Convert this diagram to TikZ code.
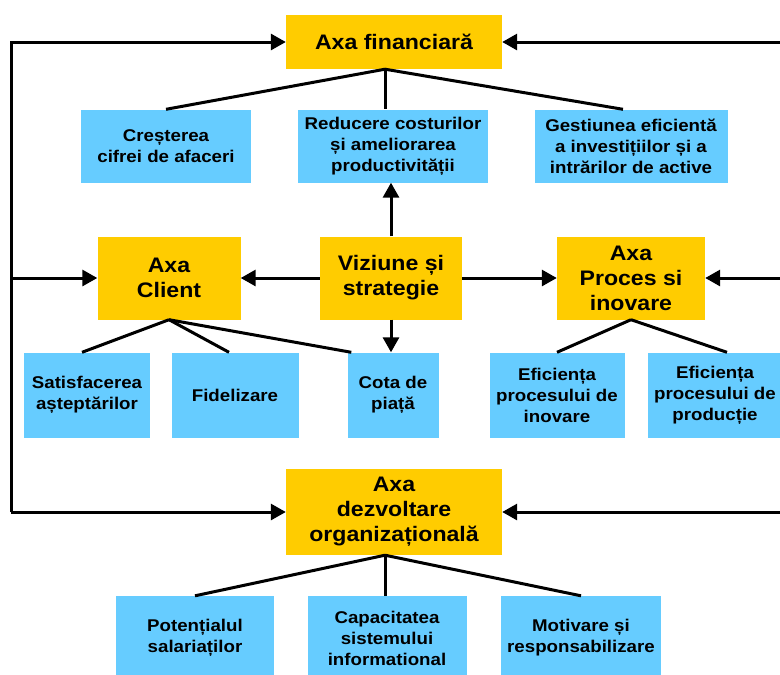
\documentclass[tikz,border=0pt]{standalone}
\usepackage{fontspec}
\setmainfont{Liberation Sans}[FakeStretch=1.1]
\usetikzlibrary{arrows.meta}
\definecolor{axagold}{HTML}{FFCC00}
\definecolor{skyblue}{HTML}{66CCFF}
\tikzset{
  axabox/.style   = {fill=axagold, align=center, inner sep=0pt,
                     font=\bfseries\fontsize{21}{25}\selectfont},
  goalbox/.style  = {fill=skyblue, align=center, inner sep=0pt,
                     font=\bfseries\fontsize{17}{21}\selectfont},
  flowarr/.style  = {-{Triangle[length=15pt,width=16pt]}, line width=3pt},
  linkline/.style = {line width=3pt}
}

\begin{document}
\begin{tikzpicture}[x=1pt,y=-1pt]
  \useasboundingbox (0,0) rectangle (780,675);
  % axele
  \node[axabox, minimum width=216pt, minimum height=54pt] (fin)    at (394,42)  {Axa financiară};
  \node[axabox, minimum width=143pt, minimum height=83pt] (client) at (169,278) {Axa\\Client};
  \node[axabox, minimum width=142pt, minimum height=83pt] (viz)    at (391,278) {Viziune și\\strategie};
  \node[axabox, minimum width=148pt, minimum height=83pt] (proc)   at (631,278) {Axa\\Proces si\\inovare};
  \node[axabox, minimum width=216pt, minimum height=86pt] (dezv)   at (394,512) {Axa\\dezvoltare\\organizațională};
  % obiective
  \node[goalbox, minimum width=170pt, minimum height=73pt] (cres)   at (166,146) {Creșterea\\cifrei de afaceri};
  \node[goalbox, minimum width=190pt, minimum height=73pt] (red)    at (393,146) {Reducere costurilor\\și ameliorarea\\productivității};
  \node[goalbox, minimum width=193pt, minimum height=73pt] (gest)   at (631,146) {Gestiunea eficientă\\a investițiilor și a\\intrărilor de active};
  \node[goalbox, minimum width=126pt, minimum height=85pt] (satis)  at (87,395)  {Satisfacerea\\așteptărilor};
  \node[goalbox, minimum width=127pt, minimum height=85pt] (fid)    at (235,395) {Fidelizare};
  \node[goalbox, minimum width=91pt,  minimum height=85pt] (cota)   at (393,395) {Cota de\\piață};
  \node[goalbox, minimum width=135pt, minimum height=85pt] (efin)   at (557,395) {Eficiența\\procesului de\\inovare};
  \node[goalbox, minimum width=134pt, minimum height=85pt] (efprod) at (715,395) {Eficiența\\procesului de\\producție};
  \node[goalbox, minimum width=158pt, minimum height=84pt] (pot)    at (195,638) {Potențialul\\salariaților};
  \node[goalbox, minimum width=159pt, minimum height=84pt] (cap)    at (387,638) {Capacitatea\\sistemului\\informational};
  \node[goalbox, minimum width=160pt, minimum height=84pt] (mot)    at (581,638) {Motivare și\\responsabilizare};
  % capete libere
  \coordinate (lc) at (11,512);
  \coordinate (rf) at (780,42);
  \coordinate (rp) at (780,278);
  \coordinate (rd) at (780,512);
  \coordinate (finS)  at ([xshift=-9pt]fin.south);
  \coordinate (dezvS) at ([xshift=-9pt]dezv.south);
  % sageti
  \draw[flowarr] (lc) |- (fin.west);
  \draw[flowarr] (lc |- client.west) -- (client.west);
  \draw[flowarr] (lc) -- (dezv.west);
  \draw[flowarr] (rf) -- (fin.east);
  \draw[flowarr] (rp) -- (proc.east);
  \draw[flowarr] (rd) -- (dezv.east);
  \draw[flowarr] (viz.west) -- (client.east);
  \draw[flowarr] (viz.east) -- (proc.west);
  \draw[flowarr] (viz.north) -- (red.south -| viz.north);
  \draw[flowarr] (viz.south) -- (cota.north -| viz.south);
  % legaturi
  \draw[linkline] (finS) -- (cres.north);
  \draw[linkline] (finS) -- (finS |- red.north);
  \draw[linkline] (finS) -- ([xshift=-8pt]gest.north);
  \draw[linkline] (client.south) -- ([xshift=-5pt]satis.north);
  \draw[linkline] (client.south) -- ([xshift=-6pt]fid.north);
  \draw[linkline] (client.south) -- ([xshift=4pt]cota.north west);
  \draw[linkline] (proc.south) -- (efin.north);
  \draw[linkline] (proc.south) -- ([xshift=12pt]efprod.north);
  \draw[linkline] (dezvS) -- (pot.north);
  \draw[linkline] (dezvS) -- (dezvS |- cap.north);
  \draw[linkline] (dezvS) -- (mot.north);
\end{tikzpicture}
\end{document}
